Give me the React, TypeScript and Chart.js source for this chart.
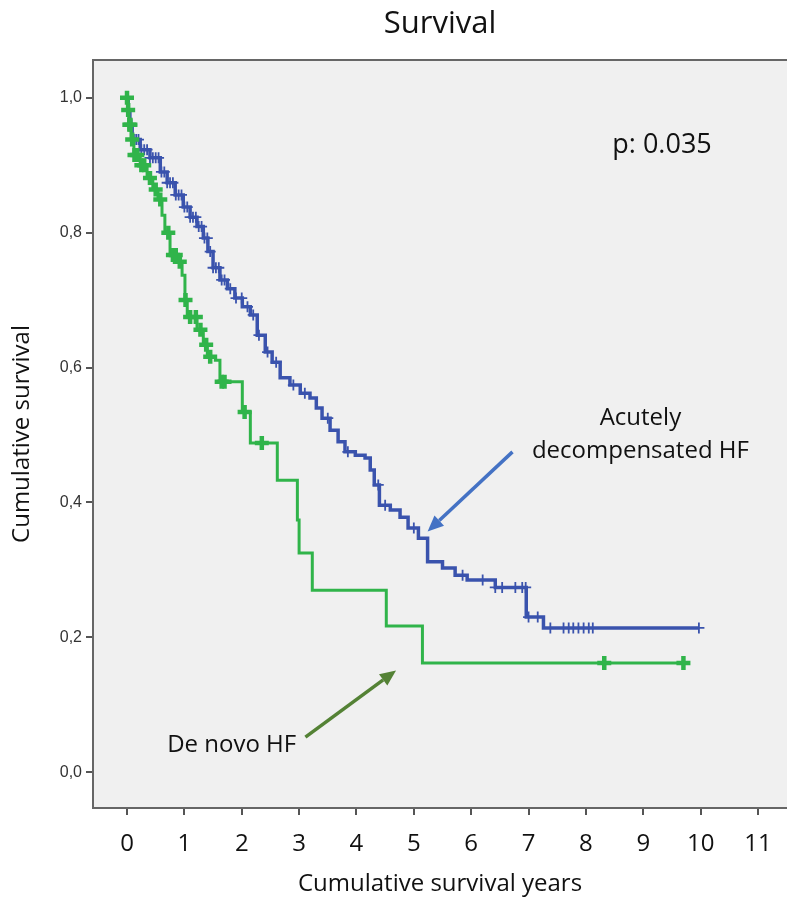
import React, { useEffect, useRef } from 'react';
import { Chart, registerables } from 'chart.js';

Chart.register(...registerables);

// ---- data ----
const X_TICKS = [0, 1, 2, 3, 4, 5, 6, 7, 8, 9, 10, 11];
const Y_TICKS = [0, 0.2, 0.4, 0.6, 0.8, 1.0];

// Acutely decompensated HF (blue) - Kaplan-Meier steps
const BLUE_T = [0, 0.02, 0.05, 0.09, 0.23, 0.40, 0.58, 0.70, 0.84, 0.98, 1.10, 1.22, 1.33, 1.41, 1.50, 1.62, 1.75, 1.88, 2.01, 2.15, 2.27, 2.41, 2.53, 2.67, 2.84, 3.02, 3.19, 3.30, 3.40, 3.54, 3.68, 3.80, 3.98, 4.15, 4.24, 4.31, 4.40, 4.59, 4.76, 4.90, 5.08, 5.24, 5.50, 5.72, 5.93, 6.42, 6.96, 7.26, 9.97];
const BLUE_S = [1.0, 0.982, 0.96, 0.938, 0.923, 0.911, 0.890, 0.874, 0.856, 0.838, 0.823, 0.809, 0.792, 0.772, 0.748, 0.730, 0.717, 0.703, 0.690, 0.678, 0.648, 0.623, 0.608, 0.585, 0.574, 0.562, 0.555, 0.540, 0.525, 0.507, 0.490, 0.475, 0.470, 0.466, 0.448, 0.426, 0.396, 0.389, 0.378, 0.362, 0.347, 0.312, 0.303, 0.292, 0.285, 0.274, 0.230, 0.214, 0.214];
const BLUE_CENSOR_T = [0.02, 0.05, 0.08, 0.12, 0.16, 0.20, 0.25, 0.30, 0.35, 0.40, 0.45, 0.50, 0.55, 0.60, 0.65, 0.70, 0.75, 0.80, 0.85, 0.90, 0.95, 1.00, 1.05, 1.10, 1.15, 1.20, 1.25, 1.30, 1.35, 1.40, 1.45, 1.50, 1.55, 1.60, 1.65, 1.70, 1.80, 1.90, 2.00, 2.10, 2.20, 2.30, 2.45, 2.60, 2.90, 3.10, 3.50, 3.85, 4.38, 4.50, 5.00, 5.85, 6.20, 6.42, 6.54, 6.77, 6.89, 6.95, 7.00, 7.16, 7.38, 7.61, 7.70, 7.78, 7.87, 7.96, 8.05, 8.12, 9.97];

// De novo HF (green)
const GREEN_T = [0, 0.02, 0.03, 0.07, 0.12, 0.23, 0.35, 0.45, 0.54, 0.61, 0.66, 0.75, 0.89, 0.96, 1.01, 1.05, 1.22, 1.33, 1.40, 1.54, 1.62, 2.01, 2.15, 2.62, 2.97, 3.00, 3.23, 4.52, 5.15, 9.70];
const GREEN_S = [1.0, 0.982, 0.96, 0.938, 0.915, 0.90, 0.881, 0.864, 0.849, 0.826, 0.80, 0.767, 0.757, 0.737, 0.700, 0.675, 0.656, 0.634, 0.616, 0.611, 0.579, 0.534, 0.488, 0.433, 0.374, 0.325, 0.270, 0.217, 0.162, 0.162];
const GREEN_CENSOR_T = [0.0, 0.02, 0.04, 0.06, 0.09, 0.13, 0.18, 0.25, 0.30, 0.40, 0.50, 0.58, 0.72, 0.80, 0.85, 0.92, 1.02, 1.10, 1.20, 1.28, 1.38, 1.45, 1.65, 1.70, 2.05, 2.35, 8.32, 9.70];

// ---- text ----
const TITLE = 'Survival';
const X_TITLE = 'Cumulative survival years';
const Y_TITLE = 'Cumulative survival';

// ---- annotations (data coordinates) ----
const NOTES = [
  { text: 'p: 0.035', x: 8.46, y: 0.93, align: 'left', size: 27 },
  { text: 'Acutely', x: 8.95, y: 0.525, align: 'center', size: 24 },
  { text: 'decompensated HF', x: 8.95, y: 0.476, align: 'center', size: 24 },
  { text: 'De novo HF', x: 0.70, y: 0.040, align: 'left', size: 24 },
];
const ARROWS = [
  { from: [6.72, 0.475], to: [5.24, 0.357], color: '#4472C4' },
  { from: [3.11, 0.052], to: [4.69, 0.151], color: '#548235' },
];

const BLUE = '#3a53ad';
const GREEN = '#30b44a';
const SANS = '"Open Sans", "Noto Sans", sans-serif';

function survivalAt(ts: number[], ss: number[], t: number) {
  let s = ss[0];
  for (let i = 0; i < ts.length; i++) if (ts[i] <= t) s = ss[i];
  return s;
}

const decor = {
  id: 'decor',
  beforeDraw(chart: any) {
    const { ctx, chartArea: a } = chart;
    ctx.save();
    ctx.fillStyle = '#f0f0f0';
    ctx.fillRect(a.left, a.top, chart.width - a.left, a.bottom - a.top);
    ctx.restore();
  },
  afterDraw(chart: any) {
    const { ctx, chartArea: a, scales } = chart;
    const xs = scales.x, ys = scales.y;
    const W = chart.width;
    ctx.save();
    // frame
    ctx.strokeStyle = '#666';
    ctx.lineWidth = 2;
    ctx.strokeRect(a.left, a.top, W - a.left + 4, a.bottom - a.top);
    // titles
    ctx.fillStyle = '#111';
    ctx.textAlign = 'center';
    ctx.textBaseline = 'middle';
    ctx.font = `31px ${SANS}`;
    ctx.fillText(TITLE, (a.left + W) / 2, 24);
    ctx.font = `24px ${SANS}`;
    ctx.fillText(X_TITLE, (a.left + W) / 2, 884);
    ctx.save();
    ctx.translate(22, (a.top + a.bottom) / 2);
    ctx.rotate(-Math.PI / 2);
    ctx.fillText(Y_TITLE, 0, 0);
    ctx.restore();
    // notes
    for (const n of NOTES) {
      ctx.font = `${n.size}px ${SANS}`;
      ctx.textAlign = n.align as CanvasTextAlign;
      ctx.fillText(n.text, xs.getPixelForValue(n.x), ys.getPixelForValue(n.y));
    }
    // arrows
    for (const ar of ARROWS) {
      const x1 = xs.getPixelForValue(ar.from[0]), y1 = ys.getPixelForValue(ar.from[1]);
      const x2 = xs.getPixelForValue(ar.to[0]), y2 = ys.getPixelForValue(ar.to[1]);
      const ang = Math.atan2(y2 - y1, x2 - x1);
      const hl = 16, hw = 7;
      const bx = x2 - hl * Math.cos(ang), by = y2 - hl * Math.sin(ang);
      ctx.strokeStyle = ar.color;
      ctx.fillStyle = ar.color;
      ctx.lineWidth = 3.5;
      ctx.beginPath();
      ctx.moveTo(x1, y1);
      ctx.lineTo(bx, by);
      ctx.stroke();
      ctx.beginPath();
      ctx.moveTo(x2, y2);
      ctx.lineTo(bx + hw * Math.sin(ang), by - hw * Math.cos(ang));
      ctx.lineTo(bx - hw * Math.sin(ang), by + hw * Math.cos(ang));
      ctx.closePath();
      ctx.fill();
    }
    ctx.restore();
  },
};

export default function App() {
  const ref = useRef<HTMLCanvasElement | null>(null);
  useEffect(() => {
    if (!ref.current) return;
    const chart = new Chart(ref.current, {
      type: 'line',
      data: {
        datasets: [
          {
            type: 'scatter',
            data: GREEN_CENSOR_T.map((t) => ({ x: t, y: survivalAt(GREEN_T, GREEN_S, t) })),
            pointStyle: 'cross',
            pointRadius: 7,
            pointBorderWidth: 4.5,
            borderColor: GREEN,
            backgroundColor: GREEN,
            showLine: false,
          } as any,
          {
            data: GREEN_T.map((t, i) => ({ x: t, y: GREEN_S[i] })),
            stepped: true,
            borderColor: GREEN,
            borderWidth: 3,
            pointRadius: 0,
            fill: false,
          },
          {
            type: 'scatter',
            data: BLUE_CENSOR_T.map((t) => ({ x: t, y: survivalAt(BLUE_T, BLUE_S, t) })),
            pointStyle: 'cross',
            pointRadius: 5.5,
            pointBorderWidth: 1.8,
            borderColor: BLUE,
            backgroundColor: BLUE,
            showLine: false,
          } as any,
          {
            data: BLUE_T.map((t, i) => ({ x: t, y: BLUE_S[i] })),
            stepped: true,
            borderColor: BLUE,
            borderWidth: 3.5,
            pointRadius: 0,
            fill: false,
          },
        ],
      },
      options: {
        animation: false,
        responsive: false,
        events: [],
        layout: { padding: { left: 0, top: 60, right: 0, bottom: 0 } },
        plugins: { legend: { display: false }, tooltip: { enabled: false }, title: { display: false } },
        scales: {
          x: {
            type: 'linear',
            min: -0.593,
            max: 11.29,
            afterFit: (s: any) => { s.height = 95; },
            afterBuildTicks: (s: any) => { s.ticks = X_TICKS.map((v) => ({ value: v })); },
            grid: { drawOnChartArea: false, drawTicks: true, tickLength: 7, tickColor: '#555', lineWidth: 2 },
            border: { display: false },
            ticks: { color: '#111', font: { family: SANS, size: 24 }, padding: 15, autoSkip: false, maxRotation: 0, callback: (v: any) => String(v) },
            title: { display: false },
          },
          y: {
            type: 'linear',
            min: -0.053,
            max: 1.056,
            afterFit: (s: any) => { s.width = 93; },
            afterBuildTicks: (s: any) => { s.ticks = Y_TICKS.map((v) => ({ value: v })); },
            grid: { drawOnChartArea: false, drawTicks: true, tickLength: 7, tickColor: '#555', lineWidth: 2 },
            border: { display: false },
            ticks: { color: '#333', font: { family: '"Liberation Sans", Arial, sans-serif', size: 16 }, padding: 4, callback: (v: any) => Number(v).toFixed(1).replace('.', ',') },
            title: { display: false },
          },
        },
      },
      plugins: [decor],
    });
    return () => chart.destroy();
  }, []);
  return (
    <div style={{ position: 'fixed', left: 0, top: 0, width: 787, height: 903, background: '#fff' }}>
      <canvas ref={ref} width={787} height={903} style={{ display: 'block', width: 787, height: 903 }} />
    </div>
  );
}
